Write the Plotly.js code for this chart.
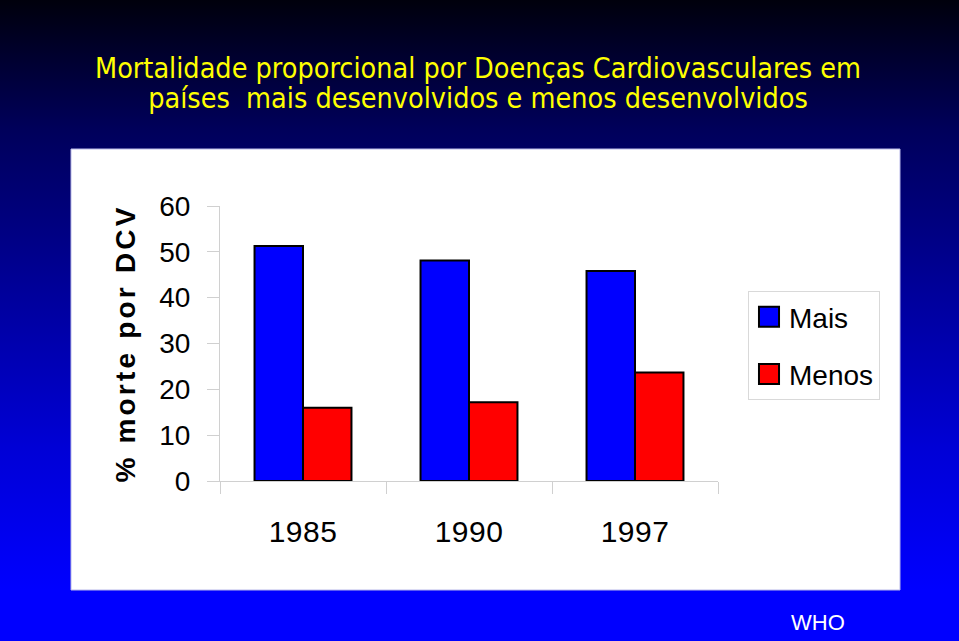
<!DOCTYPE html>
<html>
<head>
<meta charset="utf-8">
<script src="https://cdn.plot.ly/plotly-3.0.1.min.js"></script>
<style>
  html, body { margin: 0; padding: 0; }
  body { width: 959px; height: 641px; overflow: hidden;
    background: linear-gradient(to bottom, #00000c 0%, #00005a 20%, #000099 45%, #0000d6 70%, #0000ff 92%, #0000ff 100%); }
  #chart { width: 959px; height: 641px; }
  .ytitle { letter-spacing: 3.2px; }
  .xtick text { letter-spacing: 0.5px; }
</style>
</head>
<body>
<div id="chart"></div>
<script>
const categories = ["1985", "1990", "1997"];
const seriesNames = ["Mais", "Menos"];
const maisValues = [51.3, 48.1, 45.8];
const menosValues = [16.0, 17.2, 23.7];
const yTickValues = [0, 10, 20, 30, 40, 50, 60];
const yTickLabels = ["0", "10", "20", "30", "40", "50", "60"];
const titleLine1 = "Mortalidade proporcional por Doenças Cardiovasculares em";
const titleLine2 = "países\u00a0 mais desenvolvidos e menos desenvolvidos";
const sourceText = "WHO";

const W = 959, H = 641;
const M = { l: 220, r: 241, t: 206, b: 160 };
const pw = W - M.l - M.r, ph = H - M.t - M.b;
const px = x => (x - M.l) / pw;
const py = y => (H - M.b - y) / ph;

const traces = [
  { type: "bar", name: seriesNames[0], x: categories, y: maisValues, legendgroup: "a",
    marker: { color: "#0000ff", line: { color: "#000000", width: 2 } } },
  { type: "bar", name: seriesNames[1], x: categories, y: menosValues, legendgroup: "b",
    marker: { color: "#ff0000", line: { color: "#000000", width: 2 } } }
];

const titleFont = { family: "DejaVu Sans Condensed, sans-serif", size: 28.5, color: "#ffff00" };

const layout = {
  width: W, height: H,
  margin: M,
  paper_bgcolor: "rgba(0,0,0,0)",
  plot_bgcolor: "rgba(0,0,0,0)",
  barmode: "group",
  bargap: 0.416,
  bargroupgap: 0,
  font: { family: "Liberation Sans, Arial, sans-serif", color: "#000000" },
  title: {
    text: titleLine1 + "<br>" + titleLine2,
    font: titleFont,
    xref: "container", x: 478 / W, xanchor: "center",
    yref: "container", y: 1 - 78 / H, yanchor: "top"
  },
  xaxis: {
    type: "category",
    range: [-0.5, 2.5],
    showline: true, linecolor: "#d0d0d0", linewidth: 1,
    ticks: "outside", tickson: "boundaries", ticklen: 12, tickcolor: "#d0d0d0", tickwidth: 1,
    showgrid: false, zeroline: false,
    tickfont: { size: 30, color: "#000000" },
    ticklabelstandoff: 24,
    fixedrange: true
  },
  yaxis: {
    range: [0, 60],
    tickvals: yTickValues, ticktext: yTickLabels,
    showline: true, linecolor: "#d0d0d0", linewidth: 1,
    ticks: "outside", ticklen: 12, tickcolor: "#d0d0d0", tickwidth: 1,
    showgrid: false, zeroline: false,
    tickfont: { size: 28, color: "#000000" },
    ticklabelstandoff: 11,
    title: { text: "% morte por DCV", font: { size: 28, weight: "bold", color: "#000000" }, standoff: 15 },
    fixedrange: true
  },
  legend: {
    x: px(748), xanchor: "left", y: py(291), yanchor: "top",
    bgcolor: "#ffffff", bordercolor: "#d9d9d9", borderwidth: 1,
    font: { size: 28, color: "#000000" },
    traceorder: "grouped", tracegroupgap: 18
  },
  shapes: [
    { type: "rect", xref: "paper", yref: "paper", layer: "below",
      x0: px(71), x1: px(900), y0: py(590), y1: py(149),
      fillcolor: "#ffffff", line: { color: "#b8b8e8", width: 1 } }
  ],
  annotations: [
    { text: sourceText, xref: "paper", yref: "paper", x: px(818), y: py(622),
      xanchor: "center", yanchor: "middle", showarrow: false,
      font: { size: 22, color: "#ffffff" } }
  ]
};

Plotly.newPlot("chart", traces, layout, { displayModeBar: false, staticPlot: true }).then(function (gd) {
  gd.querySelectorAll(".legend .legendpoints path").forEach(function (p) {
    const t = p.getAttribute("transform") || "";
    p.setAttribute("transform", t + " scale(1.67)");
    p.style.strokeWidth = "1.2px";
  });
  const lines = gd.querySelectorAll(".gtitle tspan.line");
  if (lines.length > 1) lines[1].setAttribute("dy", "1.06em");
});
</script>
</body>
</html>
